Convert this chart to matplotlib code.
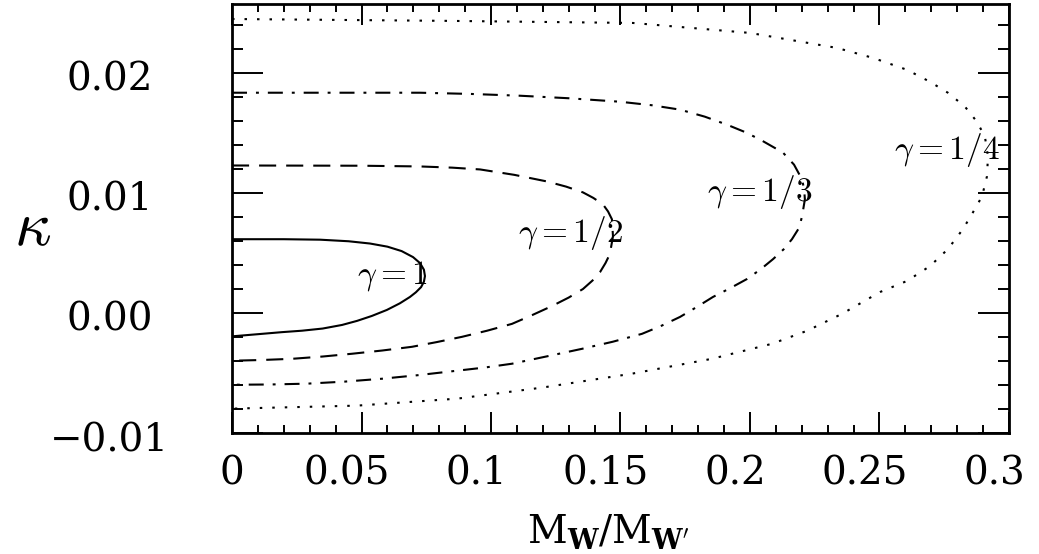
import matplotlib.pyplot as plt
from matplotlib.ticker import MultipleLocator
from matplotlib.transforms import ScaledTranslation

plt.rcParams['font.family'] = 'DejaVu Serif'
plt.rcParams['mathtext.fontset'] = 'cm'

# gamma = 1 contour (solid)
m_g1 = [0.0, 0.020, 0.034, 0.045, 0.0533, 0.060, 0.0655, 0.0699, 0.0726,
        0.0741, 0.0745, 0.0741, 0.0730, 0.0710, 0.0687, 0.0648, 0.0598,
        0.0540, 0.0483, 0.0425, 0.0350, 0.0270, 0.0193, 0.0100, 0.0]
k_g1 = [0.00614, 0.00614, 0.00610, 0.00597, 0.00578, 0.00552, 0.00515,
        0.00465, 0.00415, 0.00360, 0.00307, 0.00260, 0.00215, 0.00172,
        0.00133, 0.00080, 0.00025, -0.00025, -0.00066, -0.00100, -0.00130,
        -0.00148, -0.00160, -0.00177, -0.00195]

# gamma = 1/2 contour (dashed)
m_g2 = [0.0, 0.050, 0.0726, 0.085, 0.0958, 0.109, 0.1216, 0.129, 0.1355,
        0.1395, 0.1432, 0.1452, 0.1467, 0.1471, 0.1459, 0.1442, 0.1421,
        0.1392, 0.1355, 0.1300, 0.1236, 0.1160, 0.1081, 0.0985, 0.0888,
        0.0790, 0.0695, 0.0580, 0.0463, 0.0350, 0.0232, 0.0115, 0.0]
k_g2 = [0.01228, 0.01226, 0.0122, 0.0121, 0.01195, 0.0115, 0.01095, 0.01052,
        0.01004, 0.00958, 0.00905, 0.00845, 0.0078, 0.00639, 0.0049, 0.00415,
        0.0034, 0.0027, 0.00199, 0.00128, 0.00058, -0.00017, -0.00091,
        -0.00148, -0.00199, -0.00243, -0.00282, -0.00313, -0.0034, -0.00363,
        -0.00382, -0.00392, -0.00398]

# gamma = 1/3 contour (dash-dot)
m_g3 = [0.0, 0.036, 0.0726, 0.092, 0.1112, 0.130, 0.1498, 0.162, 0.173,
        0.1825, 0.1911, 0.198, 0.2039, 0.2127, 0.217, 0.2201, 0.2209, 0.2212,
        0.2201, 0.219, 0.2162, 0.213, 0.2089, 0.2042, 0.1988, 0.1925, 0.1857,
        0.1795, 0.173, 0.166, 0.1583, 0.147, 0.1351, 0.1215, 0.1081, 0.0975,
        0.0869, 0.072, 0.0579, 0.0435, 0.029, 0.0145, 0.0]
k_g3 = [0.01834, 0.01834, 0.01834, 0.01824, 0.01809, 0.01788, 0.01759,
        0.0173, 0.01693, 0.01635, 0.01568, 0.01507, 0.01444, 0.01336,
        0.01235, 0.01112, 0.0103, 0.00946, 0.00805, 0.0071, 0.00614, 0.0053,
        0.00448, 0.00365, 0.00282, 0.00208, 0.00133, 0.0005, -0.00033,
        -0.00105, -0.00174, -0.0024, -0.00299, -0.00362, -0.00423, -0.00455,
        -0.00481, -0.00518, -0.00548, -0.00572, -0.00589, -0.00596, -0.00598]

# gamma = 1/4 contour (dotted)
m_g4 = [0.0, 0.0853, 0.1548, 0.2, 0.2336, 0.2475, 0.2606, 0.2695, 0.2764,
        0.283, 0.2876, 0.2907, 0.2919, 0.2915, 0.2896, 0.2861, 0.2822, 0.2764,
        0.2695, 0.2606, 0.2502, 0.2355, 0.222, 0.2085, 0.1853, 0.1544, 0.1197,
        0.0869, 0.0483, 0.0]
k_g4 = [0.02448, 0.02432, 0.02415, 0.02332, 0.02207, 0.02124, 0.02025, 0.01925,
        0.01834, 0.01718, 0.01593, 0.01469, 0.01303, 0.01137, 0.00971,
        0.00838, 0.00697, 0.00531, 0.0039, 0.00266, 0.00174, -0.00008,
        -0.00149, -0.00257, -0.00382, -0.00506, -0.00622, -0.00714, -0.00772,
        -0.00797]

curve_labels = [r'$\gamma=1$', r'$\gamma=1/2$', r'$\gamma=1/3$', r'$\gamma=1/4$']
label_m = [0.0757, 0.151, 0.2243, 0.2965]
label_k = [0.00241, 0.00589, 0.00929, 0.01278]

x_ticks = [0, 0.05, 0.1, 0.15, 0.2, 0.25, 0.3]
x_ticklabels = ['0', '0.05', '0.1', '0.15', '0.2', '0.25', '0.3']
y_ticks = [-0.01, 0.0, 0.01, 0.02]
y_ticklabels = ['\u22120.01', '0.00', '0.01', '0.02']

fig = plt.figure(figsize=(10.39, 5.54), dpi=100)
ax = fig.add_axes([0.2233, 0.2184, 0.7478, 0.7744])

lw = 1.5
ax.plot(m_g1, k_g1, color='black', lw=lw, linestyle='-')
ax.plot(m_g2, k_g2, color='black', lw=lw, linestyle=(0, (8.2, 4.8)))
ax.plot(m_g3, k_g3, color='black', lw=lw, linestyle=(0, (7.2, 4.3, 1.4, 4.3)))
ax.plot(m_g4, k_g4, color='black', lw=lw, linestyle=(0, (1.2, 4.8)))

for txt, xm, yk in zip(curve_labels, label_m, label_k):
    ax.text(xm, yk, txt, fontsize=24, ha='right', va='baseline')

ax.set_xlim(0, 0.3)
ax.set_ylim(-0.01, 0.02573)

for sp in ax.spines.values():
    sp.set_linewidth(2)

ax.xaxis.set_minor_locator(MultipleLocator(0.01))
ax.yaxis.set_minor_locator(MultipleLocator(0.002))
ax.tick_params(which='both', direction='in', top=True, right=True, width=1.4,
               labelsize=28)
ax.tick_params(axis='x', which='major', length=15, pad=16.5)
ax.tick_params(axis='x', which='minor', length=5.8)
ax.tick_params(axis='y', which='major', length=22, pad=88)
ax.tick_params(axis='y', which='minor', length=8)

ax.set_xticks(x_ticks, x_ticklabels)
ax.set_yticks(y_ticks, y_ticklabels)

# labels sit a little left of / below their ticks
for i, lab in enumerate(ax.get_xticklabels()):
    if i > 0:
        lab.set_transform(lab.get_transform() +
                          ScaledTranslation(-0.15, 0, fig.dpi_scale_trans))
for lab in ax.get_yticklabels():
    lab.set_horizontalalignment('center')
    lab.set_transform(lab.get_transform() +
                      ScaledTranslation(0, -0.035, fig.dpi_scale_trans))

ax.set_xlabel(r'$\mathrm{M}_{\mathbf{W}}/\mathrm{M}_{\mathbf{W}^{\prime}}$',
              fontsize=28, math_fontfamily='dejavuserif')
ax.xaxis.set_label_coords(0.484, -0.185)
ax.set_ylabel(r'$\kappa$', fontsize=46, rotation=0, ha='center', va='center')
ax.yaxis.set_label_coords(-0.257, 0.478)

fig.savefig('out.png', dpi=100)
